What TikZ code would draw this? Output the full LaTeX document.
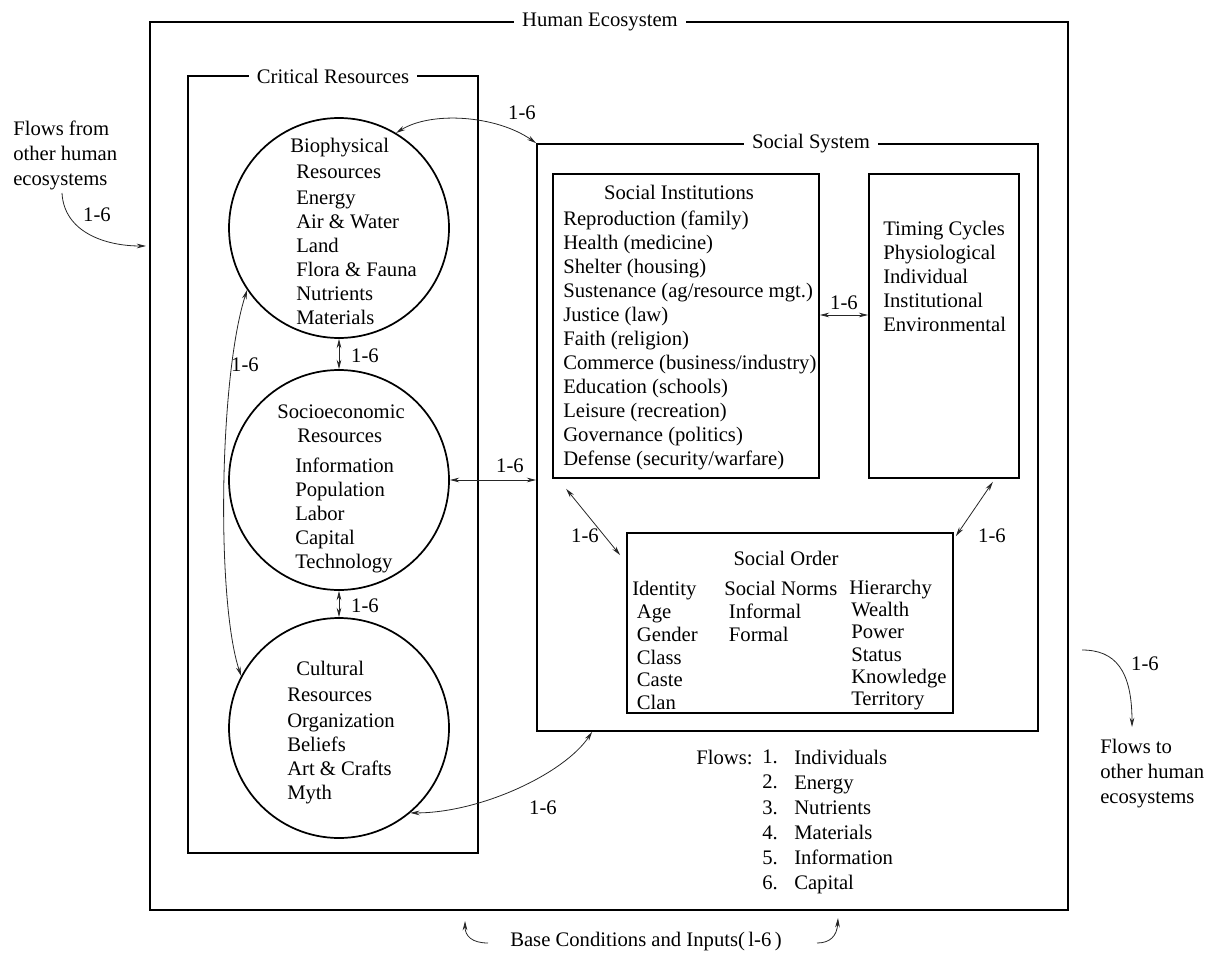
\documentclass[tikz,border=0pt]{standalone}
\usepackage{fontspec}
\setmainfont{Liberation Serif}
\usetikzlibrary{arrows.meta,fit,calc}

\tikzset{
  box/.style={draw, line width=1.3pt, inner sep=0pt},
  boxtitle/.style={fill=white, inner xsep=6pt, inner ysep=2pt},
  res/.style={circle, draw, line width=1.3pt, minimum size=165pt, inner sep=0pt},
  txt/.style={align=left, inner sep=0pt, anchor=north west},
  flow/.style={{Stealth[length=7pt,width=3.5pt]}-{Stealth[length=7pt,width=3.5pt]}, line width=0.6pt, draw=black!85},
  inflow/.style={-{Stealth[length=7pt,width=3.5pt]}, line width=0.6pt, draw=black!85},
  lbl/.style={inner sep=1pt}
}

\begin{document}
\begin{tikzpicture}[x=0.75pt,y=0.75pt,yscale=-1,xscale=1,font=\fontsize{15.5pt}{18pt}\selectfont]
\useasboundingbox (0,0) rectangle (1206,959);

%Boxes
\node[box, fit={(150,22) (1068,910)}] (eco) {};
\node[box, fit={(188,76) (478,853)}] (crit) {};
\node[box, fit={(537,144) (1038,731)}] (social) {};
\node[box, fit={(553,174) (819,478)}] (inst) {};
\node[box, fit={(869,174) (1019,478)}] (timing) {};
\node[box, fit={(627,533) (953,713)}] (order) {};

% Box titles
\node[boxtitle] (ecotitle) at (600,22) {Human Ecosystem};
\node[boxtitle] (crittitle) at (333,76) {Critical Resources};
\node[boxtitle] (socialtitle) at (811,144) {Social System};

%Shape: Circles
\node[res] (bio) at (339,228) {};
\node[res] (socio) at (339,480) {};
\node[res] (cult) at (339,728) {};

% Text Node
\node[txt] (biotext) at (296,138) {\hspace*{-4.5pt}Biophysical\\[1.5pt]Resources\\[1.5pt]Energy\\Air \& Water\\Land\\Flora \& Fauna\\Nutrients\\Materials};
% Text Node
\node[txt] (sociotext) at (295,405) {\hspace*{-13.5pt}Socioeconomic\\\hspace*{1.5pt}Resources\\[4.5pt]Information\\Population\\Labor\\Capital\\Technology};
% Text Node
\node[txt] (culttext) at (287,661) {\hspace*{6.75pt}Cultural\\[1.5pt]Resources\\[1.5pt]Organization\\Beliefs\\Art \& Crafts\\Myth};

% Text Node
\node (insttitle) at (679,192) {Social Institutions};
\node[txt] (instlist) at (563,211) {Reproduction (family)\\Health (medicine)\\Shelter (housing)\\Sustenance (ag/resource mgt.)\\Justice (law)\\Faith (religion)\\Commerce (business/industry)\\Education (schools)\\Leisure (recreation)\\Governance (politics)\\Defense (security/warfare)};
% Text Node
\node[txt] (timinglist) at (883,221) {Timing Cycles\\Physiological\\Individual\\Institutional\\Environmental};

% Text Node
\node (ordertitle) at (786,558) {Social Order};
\node[txt, font=\fontsize{15.5pt}{17.1pt}\selectfont] (identity) at (632,581) {Identity\\\hspace*{3.5pt}Age\\\hspace*{3.5pt}Gender\\\hspace*{3.5pt}Class\\\hspace*{3.5pt}Caste\\\hspace*{3.5pt}Clan};
\node[txt, font=\fontsize{15.5pt}{17.1pt}\selectfont] (norms) at (724,581) {Social Norms\\\hspace*{3.5pt}Informal\\\hspace*{3.5pt}Formal};
\node[txt, font=\fontsize{15.5pt}{16.6pt}\selectfont] (hierarchy) at (849,580) {Hierarchy\\\hspace*{1.5pt}Wealth\\\hspace*{1.5pt}Power\\\hspace*{1.5pt}Status\\\hspace*{1.5pt}Knowledge\\\hspace*{1.5pt}Territory};

% Text Node
\node[txt] (flowshead) at (696,750) {Flows:};
\node[txt, font=\fontsize{15.5pt}{18.8pt}\selectfont] (flownums) at (762,750) {1.\\2.\\3.\\4.\\5.\\6.};
\node[txt, font=\fontsize{15.5pt}{18.8pt}\selectfont] (flowitems) at (794,750) {Individuals\\Energy\\Nutrients\\Materials\\Information\\Capital};

% Text Node
\node[txt] (flowsin) at (13,121) {Flows from\\[0.75pt]other human\\[0.75pt]ecosystems};
\node[txt] (flowsout) at (1100,739) {Flows to\\[0.75pt]other human\\[0.75pt]ecosystems};
\node (basecond) at (646,942) {Base Conditions and Inputs(\,l-6\,)};

%Free ends
\coordinate (inA) at (62,193);
\coordinate (inB) at (146,246);
\coordinate (outA) at (1082,650);
\coordinate (outB) at (1132,727);
\coordinate (baseLA) at (488,943);
\coordinate (baseLB) at (465,921);
\coordinate (baseRA) at (817,943);
\coordinate (baseRB) at (838,918);

%Curve Lines
\draw[inflow] (inA) .. controls (64,232) and (105,246) .. (inB);
\node[lbl] (inlbl) at (97,215) {1-6};
\draw[inflow] (outA) .. controls (1115,650) and (1132,670) .. (outB);
\node[lbl] (outlbl) at (1145,664) {1-6};
\draw[inflow] (baseLA) .. controls (472,943) and (465,936) .. (baseLB);
\draw[inflow] (baseRA) .. controls (830,943) and (837,936) .. (baseRB);

%Curve Lines
\draw[flow] (bio.59) .. controls +(35,-22) and +(-40,-28) .. (social.north west);
\node[lbl] (lblbs) at (522,113) {1-6};
\draw[flow] (bio.214) .. controls +(-28,87) and +(-25,-75) .. (cult.152);
\node[lbl] (lblbc) at (245,365) {1-6};
\draw[flow] (cult.-50) .. controls +(70,0) and +(-28,42) .. ($(social.south west)+(56,0)$);
\node[lbl] (lblcs) at (543,808) {1-6};

%Straight Lines
\draw[flow] (bio.south) -- (socio.north);
\node[lbl] (lblbio) at (365,356) {1-6};
\draw[flow] (socio.south) -- (cult.north);
\node[lbl] (lblsoc) at (365,606) {1-6};
\draw[flow] (socio.east) -- (socio.east -| social.west);
\node[lbl] (lblss) at (510,466) {1-6};
\draw[flow] ($(inst.east)+(0,-11)$) -- ($(timing.west)+(0,-11)$);
\node[lbl] (lblit) at (844,303) {1-6};
\draw[flow] ($(inst.south west)+(14,10)$) -- ($(order.north west)+(-6,23)$);
\node[lbl] (lblio) at (585,536) {1-6};
\draw[flow] ($(timing.south east)+(-27,3)$) -- ($(order.north east)+(2,4)$);
\node[lbl] (lblto) at (992,536) {1-6};

\end{tikzpicture}
\end{document}
